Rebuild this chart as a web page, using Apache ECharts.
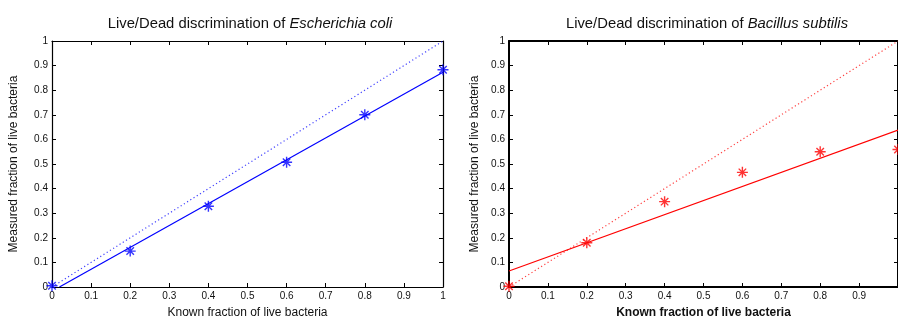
<!DOCTYPE html>
<html>
<head>
<meta charset="utf-8">
<script src="https://cdn.jsdelivr.net/npm/echarts@6/dist/echarts.min.js"></script>
<style>
  html, body { margin: 0; padding: 0; background: #fff; }
  #chart { width: 898px; height: 324px; }
</style>
</head>
<body>
<div id="chart"></div>
<script>
// values
const knownFraction = [0, 0.2, 0.4, 0.6, 0.8, 1.0];
const ecoliMeasured = [0.005, 0.146, 0.328, 0.507, 0.700, 0.883];
const bsubMeasured = [0.003, 0.180, 0.347, 0.466, 0.550, 0.559];
const ecoliFitX = [0.019, 1];
const ecoliFitY = [0, 0.873];
const bsubFitX = [0, 1];
const bsubFitY = [0.065, 0.638];
const identityX = [0, 1];
const identityY = [0, 1];
const tickLabels = ['0', '0.1', '0.2', '0.3', '0.4', '0.5', '0.6', '0.7', '0.8', '0.9', '1'];

const font = '"Liberation Sans", Arial, Helvetica, sans-serif';
const textColor = '#111';
const asterisk = 'path://M0,5L10,5M5,0L5,10M1.6,1.6L8.4,8.4M8.4,1.6L1.6,8.4';

const pairs = (xs, ys) => xs.map((x, i) => [x, ys[i]]);
const tickFmt = v => tickLabels[Math.round(v * 10)];

const myChart = echarts.init(document.getElementById('chart'), null, { renderer: 'canvas' });

function xAxes(gridIndex, lineWidth, bold, showMax) {
  return [{
    gridIndex: gridIndex,
    type: 'value',
    min: 0, max: 1, interval: 0.1,
    position: 'bottom',
    name: 'Known fraction of live bacteria',
    nameLocation: 'middle',
    nameGap: 20,
    nameTextStyle: { fontFamily: font, fontSize: 12, color: textColor, fontWeight: bold ? 'bold' : 'normal' },
    axisLine: { show: true, onZero: false, lineStyle: { color: '#000', width: lineWidth } },
    axisTick: { show: true, inside: true, length: 4, lineStyle: { color: '#000' } },
    axisLabel: { show: true, margin: 4, fontFamily: font, fontSize: 10, color: textColor, formatter: tickFmt, showMaxLabel: showMax },
    splitLine: { show: false }
  }, {
    gridIndex: gridIndex,
    type: 'value',
    min: 0, max: 1, interval: 0.1,
    position: 'top',
    axisLine: { show: true, onZero: false, lineStyle: { color: '#000', width: lineWidth } },
    axisTick: { show: true, inside: true, length: 4, lineStyle: { color: '#000' } },
    axisLabel: { show: false },
    splitLine: { show: false }
  }];
}

function yAxes(gridIndex, lineWidth, gap) {
  return [{
    gridIndex: gridIndex,
    type: 'value',
    min: 0, max: 1, interval: 0.1,
    position: 'left',
    name: 'Measured fraction of live bacteria',
    nameLocation: 'middle',
    nameGap: gap,
    nameTextStyle: { fontFamily: font, fontSize: 12, color: textColor },
    axisLine: { show: true, onZero: false, lineStyle: { color: '#000', width: lineWidth } },
    axisTick: { show: true, inside: true, length: 4, lineStyle: { color: '#000' } },
    axisLabel: { show: true, margin: 4, fontFamily: font, fontSize: 10, color: textColor, formatter: tickFmt },
    splitLine: { show: false }
  }, {
    gridIndex: gridIndex,
    type: 'value',
    min: 0, max: 1, interval: 0.1,
    position: 'right',
    axisLine: { show: true, onZero: false, lineStyle: { color: '#000', width: lineWidth } },
    axisTick: { show: true, inside: true, length: 4, lineStyle: { color: '#000' } },
    axisLabel: { show: false },
    splitLine: { show: false }
  }];
}

function seriesFor(idx, color, measured, fitX, fitY) {
  return [{
    type: 'line',
    xAxisIndex: idx * 2, yAxisIndex: idx * 2,
    data: pairs(identityX, identityY),
    symbol: 'none',
    lineStyle: { color: color, width: 1.2, type: [1.2, 2.6], opacity: 0.75 },
    silent: true, animation: false
  }, {
    type: 'line',
    xAxisIndex: idx * 2, yAxisIndex: idx * 2,
    data: pairs(fitX, fitY),
    symbol: 'none',
    lineStyle: { color: color, width: 1.2 },
    silent: true, animation: false
  }, {
    type: 'scatter',
    xAxisIndex: idx * 2, yAxisIndex: idx * 2,
    data: pairs(knownFraction, measured),
    symbol: asterisk,
    symbolSize: 11,
    clip: false,
    itemStyle: { color: 'none', borderColor: color, borderWidth: 1.4 },
    silent: true, animation: false
  }];
}

const titleRich = {
  n: { fontFamily: font, fontSize: 14.8, color: textColor, fontWeight: 'normal' },
  i: { fontFamily: font, fontSize: 14.8, color: textColor, fontWeight: 'normal', fontStyle: 'italic' }
};

const option = {
  backgroundColor: '#fff',
  animation: false,
  title: [{
    text: '{n|Live/Dead discrimination of }{i|Escherichia coli}',
    left: 245, top: 11, textAlign: 'center',
    textStyle: { fontWeight: 'normal', rich: titleRich }
  }, {
    text: '{n|Live/Dead discrimination of }{i|Bacillus subtilis}',
    left: 702, top: 11, textAlign: 'center',
    textStyle: { fontWeight: 'normal', rich: titleRich }
  }],
  grid: [
    { left: 52, top: 41, width: 391, height: 251, containLabel: false },
    { left: 509, top: 41, width: 391, height: 253, containLabel: false }
  ],
  xAxis: [].concat(xAxes(0, 1.2, false, true), xAxes(1, 2, true, false)),
  yAxis: [].concat(yAxes(0, 1.2, 32), yAxes(1, 2, 28)),
  series: [].concat(
    seriesFor(0, '#0000ff', ecoliMeasured, ecoliFitX, ecoliFitY),
    seriesFor(1, '#ff0000', bsubMeasured, bsubFitX, bsubFitY)
  )
};

myChart.setOption(option);
</script>
</body>
</html>
